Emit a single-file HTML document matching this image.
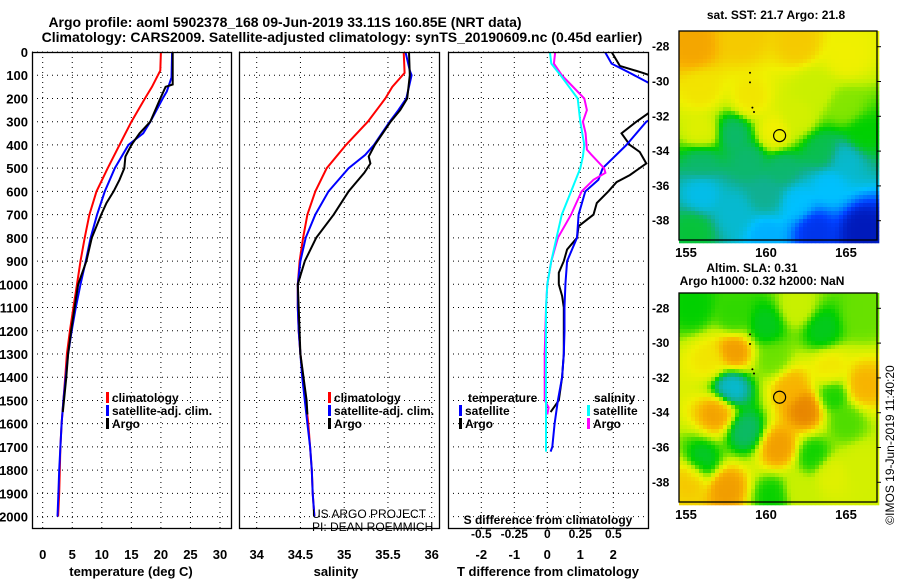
<!DOCTYPE html>
<html><head><meta charset="utf-8">
<style>
html,body{margin:0;padding:0;background:#fff;}
svg{display:block;}
text{font-family:"Liberation Sans",sans-serif;font-weight:bold;fill:#000;}
</style></head>
<body>
<svg id="chart" width="900" height="580" xmlns="http://www.w3.org/2000/svg">
<text x="285" y="27" font-size="14" text-anchor="middle">Argo profile: aoml 5902378_168 09-Jun-2019 33.11S 160.85E (NRT data)</text>
<text x="342" y="42" font-size="14" text-anchor="middle">Climatology: CARS2009. Satellite-adjusted climatology: synTS_20190609.nc (0.45d earlier)</text>
<g id="g1"></g>
<g id="g2"></g>
<g id="g3"></g>
<g id="m1"></g>
<g id="m2"></g>
<text x="776" y="19" font-size="12" text-anchor="middle">sat. SST: 21.7 Argo: 21.8</text>
<text x="752" y="272" font-size="12" text-anchor="middle">Altim. SLA: 0.31</text>
<text x="762" y="285" font-size="12" text-anchor="middle">Argo h1000: 0.32 h2000: NaN</text>
<text transform="translate(894,445) rotate(-90)" font-size="12" style="font-weight:normal" text-anchor="middle">©IMOS 19-Jun-2019 11:40:20</text>
<text x="312" y="518" font-size="12" style="font-weight:normal">US ARGO PROJECT</text>
<text x="312" y="531" font-size="12" style="font-weight:normal">PI: DEAN ROEMMICH</text>
</svg>
<script>
// ---- data ----
const depthTick = [0,100,200,300,400,500,600,700,800,900,1000,1100,1200,1300,1400,1500,1600,1700,1800,1900,2000];
const tempTicks = [0,5,10,15,20,25,30];
const salTicks = [34,34.5,35,35.5,36];
const tdTicks = [-2,-1,0,1,2];
const sdTicks = [-0.5,-0.25,0,0.25,0.5];
const sdTickLabels = ["-0.5","-0.25","0","0.25","0.5"];
const climTD = [0,80,100,150,200,300,400,500,600,700,800,900,1000,1100,1200,1300,1400,1500,1600,1700,1800,1900,2000];
const climT = [20,19.9,19.5,18.5,17.3,15.0,13.0,11.0,9.1,7.9,7.1,6.4,5.8,5.2,4.6,4.1,3.8,3.5,3.2,3.0,2.9,2.8,2.6];
const satTD = [0,110,170,200,300,350,400,500,600,700,800,900,1000,1100,1200,1300,1400,1500,1600,1700,1800,1900,2000];
const satT = [21.9,21.8,21.0,20.3,18.2,17.0,14.5,12.2,10.5,9.2,8.1,7.3,6.4,5.6,4.9,4.3,3.9,3.5,3.2,3.0,2.8,2.65,2.5];
const argoTD = [0,140,150,200,300,350,400,450,500,550,600,650,700,800,900,1000,1100,1200,1300,1400,1500,1550];
const argoT = [22.0,22.0,20.8,19.9,18.2,16.4,15.0,14.0,13.8,13.0,12.0,10.8,9.9,8.3,7.4,6.0,5.4,4.8,4.3,4.0,3.6,3.4];
const climSD = [0,90,150,200,300,400,500,600,700,800,900,1000,1100,1200,1300,1400,1500,1600,1700,1800,1900,2000];
const climS = [35.68,35.69,35.55,35.47,35.27,35.02,34.80,34.67,34.58,34.53,34.49,34.47,34.47,34.48,34.50,34.53,34.56,34.59,34.61,34.63,34.64,34.66];
const satSD = [0,80,100,200,250,300,400,443,500,600,700,800,900,1000,1100,1200,1300,1400,1500,1600,1700,1800,1900,2000];
const satS = [35.70,35.75,35.77,35.71,35.62,35.52,35.34,35.24,35.05,34.82,34.67,34.56,34.50,34.47,34.47,34.48,34.50,34.52,34.55,34.58,34.61,34.63,34.64,34.66];
const argoSD = [0,100,200,250,300,400,450,480,520,600,700,800,900,1000,1100,1300,1500,1560];
const argoS = [35.74,35.75,35.72,35.64,35.53,35.35,35.28,35.30,35.23,35.05,34.88,34.68,34.55,34.47,34.48,34.50,34.57,34.58];
const dTsatD = [0,50,90,135,293,300,400,500,550,600,700,800,900,1000,1100,1200,1300,1400,1500,1600,1700,1720];
const dTsat = [1.75,1.95,2.5,3.1,3.1,3.0,2.4,1.68,1.55,1.15,0.95,0.9,0.6,0.55,0.52,0.52,0.5,0.45,0.32,0.22,0.15,0.1];
const dTargoD = [0,60,90,100,260,300,350,400,430,480,530,560,600,650,700,750,800,850,900,950,1000,1050,1100,1200,1300,1400,1500,1550];
const dTargo = [1.95,2.2,2.9,3.1,3.1,2.7,2.25,2.5,2.8,3.0,2.5,2.1,1.85,1.5,1.4,0.95,0.9,0.6,0.5,0.35,0.35,0.45,0.5,0.5,0.5,0.45,0.35,0.1];
const dSsatD = [0,50,100,200,300,400,450,500,600,700,800,900,1000,1100,1300,1500,1720];
const dSsat = [0.02,0.03,0.10,0.23,0.25,0.28,0.27,0.25,0.18,0.11,0.07,0.03,0.0,-0.01,-0.01,-0.01,-0.01];
const dSargoD = [0,50,100,200,250,300,350,420,440,500,520,550,600,650,700,800,900,1000,1100,1300,1500,1530,1560];
const dSargo = [0.06,0.05,0.11,0.28,0.30,0.27,0.29,0.30,0.33,0.43,0.44,0.35,0.26,0.22,0.18,0.08,0.03,0.0,-0.01,-0.02,-0.02,0.01,0.0];

// ---- helpers ----
const NS="http://www.w3.org/2000/svg";
function mk(parent,tag,attrs){const e=document.createElementNS(NS,tag);for(const k in attrs)e.setAttribute(k,attrs[k]);parent.appendChild(e);return e;}
const Y0=52,Y1=528;
const yD=d=>52+d*0.2323;
const xT=t=>42.7+t*5.91;
const xS=s=>256.7+(s-34)*87.5;
const xDT=v=>547.3+v*33;
const xDS=v=>547.3+v*132;

function frame(g,x0,x1,clipId){
  const defs=mk(g,'defs',{});
  const cp=mk(defs,'clipPath',{id:clipId});
  mk(cp,'rect',{x:x0,y:Y0,width:x1-x0,height:Y1-Y0});
  depthTick.forEach(d=>{
    const l=mk(g,'line',{x1:x0,x2:x1,y1:yD(d),y2:yD(d),stroke:'#000','stroke-width':1,'stroke-dasharray':'1,4'});
    
    
  });
}
function vgrid(g,xs){xs.forEach(x=>{
  const l=mk(g,'line',{x1:x,x2:x,y1:Y0,y2:Y1,stroke:'#000','stroke-width':1,'stroke-dasharray':'1,4'});
  
  
});}
function box(g,x0,x1){
  const r=mk(g,'rect',{x:x0+0.5,y:Y0+0.5,width:x1-x0,height:Y1-Y0,fill:'none',stroke:'#000','stroke-width':1.3});
  
  
}
function line(g,ds,vs,fx,color,clip,name){
  const pts=ds.map((d,i)=>fx(vs[i]).toFixed(1)+','+yD(d).toFixed(1)).join(' ');
  const p=mk(g,'polyline',{points:pts,fill:'none',stroke:color,'stroke-width':2,'clip-path':'url(#'+clip+')'});
  
  
}
function txt(g,x,y,s,anchor,size,name){
  const t=mk(g,'text',{x:x,y:y,'font-size':size||13,'text-anchor':anchor||'start'});
  t.textContent=s;
  
  
  return t;
}
function legend(g,x,y,items){
  items.forEach((it,i)=>{
    const r=mk(g,'rect',{x:x,y:y+i*13-10,width:3,height:11,fill:it[1]});
    
    
    txt(g,x+6,y+i*13,it[0],'start',12,'legend-entry');
  });
}

// ---- panel 1 ----
const g1=document.getElementById('g1');
frame(g1,32,231,'c1');
vgrid(g1,tempTicks.map(xT));
line(g1,climTD,climT,xT,'#f00','c1','climatology-temp-line');
line(g1,satTD,satT,xT,'#00f','c1','satellite-temp-line');
line(g1,argoTD,argoT,xT,'#000','c1','argo-temp-line');
box(g1,32,231);
depthTick.forEach(d=>txt(g1,28,yD(d)+5,String(d),'end',13,'depth-tick-label'));
tempTicks.forEach(t=>txt(g1,xT(t),559,String(t),'middle',13,'temp-tick-label'));
txt(g1,131,576,'temperature (deg C)','middle',13,'x-axis-title-temperature');
legend(g1,106,402,[['climatology','#f00'],['satellite-adj. clim.','#00f'],['Argo','#000']]);

// ---- panel 2 ----
const g2=document.getElementById('g2');
frame(g2,239,439,'c2');
vgrid(g2,salTicks.map(xS));
line(g2,climSD,climS,xS,'#f00','c2','climatology-salinity-line');
line(g2,satSD,satS,xS,'#00f','c2','satellite-salinity-line');
line(g2,argoSD,argoS,xS,'#000','c2','argo-salinity-line');
box(g2,239,439);
salTicks.forEach(s=>txt(g2,xS(s),559,String(s),'middle',13,'salinity-tick-label'));
txt(g2,336,576,'salinity','middle',13,'x-axis-title-salinity');
legend(g2,328,402,[['climatology','#f00'],['satellite-adj. clim.','#00f'],['Argo','#000']]);

// ---- panel 3 ----
const g3=document.getElementById('g3');
frame(g3,448,648,'c3');
vgrid(g3,tdTicks.map(xDT));
line(g3,dTargoD,dTargo,xDT,'#000','c3','argo-temp-diff-line');
line(g3,dTsatD,dTsat,xDT,'#00f','c3','satellite-temp-diff-line');
line(g3,dSargoD,dSargo,xDS,'#f0f','c3','argo-sal-diff-line');
line(g3,dSsatD,dSsat,xDS,'#0ff','c3','satellite-sal-diff-line');
box(g3,448,648);
tdTicks.forEach(t=>txt(g3,xDT(t),559,String(t),'middle',13,'tdiff-tick-label'));
txt(g3,548,576,'T difference from climatology','middle',13,'x-axis-title-tdiff');
txt(g3,548,524,'S difference from climatology','middle',12,'sdiff-axis-title');
sdTicks.forEach((s,i)=>txt(g3,xDS(s),538,sdTickLabels[i],'middle',12,'sdiff-tick-label'));
txt(g3,468,402,'temperature','start',12,'legend-title-temperature');
legend(g3,459,415,[['satellite','#00f'],['Argo','#000']]);
txt(g3,594,402,'salinity','start',12,'legend-title-salinity');
legend(g3,587,415,[['satellite','#0ff'],['Argo','#f0f']]);

// ---- maps ----
const stops=[[0,[0,0,140]],[0.15,[0,64,255]],[0.3,[0,192,255]],[0.42,[16,176,144]],[0.55,[0,208,0]],[0.68,[192,240,0]],[0.78,[240,240,0]],[0.88,[248,176,0]],[1,[224,112,0]]];
function cmap(v){v=Math.max(0,Math.min(1,v));for(let i=1;i<stops.length;i++){if(v<=stops[i][0]){const a=stops[i-1],b=stops[i],f=(v-a[0])/(b[0]-a[0]);return 'rgb('+a[1].map((c,j)=>Math.round(c+(b[1][j]-c)*f)).join(',')+')';}}return 'rgb(224,112,0)';}
const sstBlobs=[[155.5,-28,0.9],[158.5,-27.5,0.84],[162,-27.8,0.84],[165,-28.5,0.78],[156,-30.5,0.8],[159,-31,0.8],[160.5,-33,0.79],[162,-32,0.72],[163,-30.5,0.7],[165,-31.5,0.64],[166,-33,0.55],[158,-33,0.45],[159,-34.5,0.45],[156,-34.5,0.45],[156,-33,0.75],[161,-35,0.45],[163.5,-34,0.48],[165,-34.5,0.35],[156,-36.5,0.32],[158,-37.5,0.35],[160,-36.5,0.42],[162,-37,0.3],[164,-36,0.3],[163,-38.5,0.12],[166,-38.5,0.06],[160,-38.8,0.28],[155.5,-38.5,0.5]];
const slaBlobs=[[155.5,-28,0.55],[158,-28.5,0.58],[160,-29,0.52],[162,-28,0.7],[163.5,-29.2,0.52],[166,-28.5,0.62],[158,-30.5,0.93],[156.5,-31,0.8],[160.5,-31,0.62],[161.5,-32.5,0.88],[162.5,-33.8,0.97],[164,-31.5,0.8],[166,-32.5,0.88],[165,-34.5,0.6],[157.8,-32.6,0.33],[157,-34,0.92],[158.7,-35,0.45],[156,-36.8,0.5],[160.8,-36,0.92],[163,-36.5,0.55],[164,-37.5,0.75],[166,-37,0.72],[157.5,-38.3,0.92],[160.5,-38.8,0.55],[162,-38.5,0.7],[155.3,-37.8,0.85],[164.2,-33,0.55]];
function field(blobs,lon,lat){let s=0,w=0;blobs.forEach(b=>{const d2=(b[0]-lon)**2+(b[1]-lat)**2;const ww=1/(d2*d2+0.2);s+=ww*b[2];w+=ww;});return s/w;}
function drawMap(gid,blobs,y0,y1,lat28y,cell){
  const g=document.getElementById(gid);
  const x0=679,x1=877;
  const xL=lon=>686+(lon-155)*16;
  const yL=lat=>lat28y+(-28-lat)*17.4;
  for(let y=y0;y<y1;y+=cell){for(let x=x0;x<x1;x+=cell){
    const lon=155+(x+cell/2-686)/16, lat=-28-(y+cell/2-lat28y)/17.4;
    mk(g,'rect',{x:x,y:y,width:cell+0.3,height:cell+0.3,fill:cmap(field(blobs,lon,lat))});
  }}
  const fr=mk(g,'rect',{x:x0,y:y0,width:x1-x0,height:y1-y0,fill:'none',stroke:'#000','stroke-width':1.3});
  
  
  [-28,-30,-32,-34,-36,-38].forEach(l=>{
    mk(g,'line',{x1:x1,x2:x1+4,y1:yL(l),y2:yL(l),stroke:'#000'});
    txt(g,652,yL(l)+4,String(l),'start',12,'lat-tick-label');
  });
  [155,160,165].forEach(l=>txt(g,xL(l),y1+17,String(l),'middle',13,'lon-tick-label'));
  const c=mk(g,'circle',{cx:xL(160.85),cy:yL(-33.11),r:6,fill:'none',stroke:'#000','stroke-width':1.2});
  
  
  [[159,-29.5],[159,-30.05],[159.15,-31.5],[159.25,-31.75]].forEach(p=>mk(g,'circle',{cx:xL(p[0]),cy:yL(p[1]),r:1,fill:'#000'}));
}
drawMap('m1',sstBlobs,31,240,46.7,4);
drawMap('m2',slaBlobs,293,502,308.3,4);
</script>
</body></html>
